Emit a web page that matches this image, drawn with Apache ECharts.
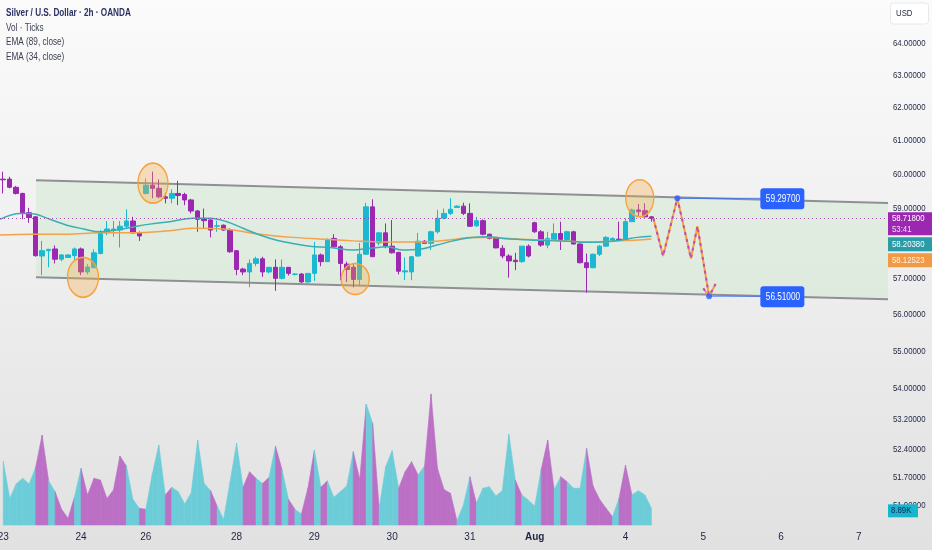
<!DOCTYPE html>
<html><head><meta charset="utf-8">
<script src="https://cdn.jsdelivr.net/npm/echarts@6/dist/echarts.min.js"></script>
<style>
html,body{margin:0;padding:0;width:932px;height:550px;overflow:hidden;}
#c{width:932px;height:550px;background:linear-gradient(#fbfbfb,#e1e1e1);}
</style>
</head><body><div id="c"></div>
<script>
const FONT = "'Liberation Sans','Noto Sans',sans-serif";
const SX = 0.82; // horizontal squeeze of the reference's condensed lettering
const slotCount = 137;
const tickIdx = [0,12,22,36,48,60,72,82,96,108,120,132];
const tickText = ['23','24','26','28','29','30','31','Aug','4','5','6','7'];
const priceTicks = [64,63,62,61,60,59,58,57,56,55,54,53.2,52.4,51.7,51.0];

const open = [59.86,59.86,59.62,59.44,58.88,58.76,57.64,57.79,57.84,57.55, 57.60,57.65,57.84,57.19,57.31,57.71,58.30,58.38,58.38,58.49, 58.64,58.30,59.44,59.68,59.59,59.34,59.30,59.44,59.41,59.25, 58.93,58.70,58.67,58.49,58.52,58.38,57.79,57.27,57.19,57.43, 57.56,57.19,57.32,57.01,57.32,57.12,57.13,56.91,57.15,57.67, 57.48,58.14,57.90,57.41,57.32,56.98,57.69,59.05,58.01,58.30, 57.92,57.74,57.19,57.19,57.64,58.06,58.00,58.33,58.72,58.86, 59.03,59.07,58.86,58.50,58.65,58.26,58.17,57.86,57.64,57.52, 57.48,57.92,58.59,58.33,57.95,58.11,58.28,58.11,58.33,57.98, 57.45,57.31,57.69,57.92,58.09,58.12,58.11,58.62,58.96,58.94, 58.76];
const high = [60.08,59.93,59.66,59.46,59.02,58.78,58.07,57.84,57.94,57.69, 57.69,57.88,57.88,57.41,57.83,58.38,58.64,58.64,58.64,58.98, 58.76,58.34,59.88,60.08,59.85,59.46,59.56,59.81,59.46,59.28, 58.96,59.00,58.69,58.65,58.54,58.43,57.81,57.31,57.54,57.62, 57.62,57.33,57.54,57.54,57.33,57.16,57.16,57.16,58.04,57.71, 58.14,58.26,57.95,57.48,57.43,58.01,59.17,59.27,58.33,58.57, 58.67,57.76,57.60,57.64,58.30,58.09,58.36,58.96,59.00,59.30, 59.10,59.17,59.15,58.76,58.69,58.28,58.17,57.95,57.69,57.73, 57.92,57.97,58.62,58.38,58.33,58.57,58.62,58.36,58.36,58.00, 57.71,57.71,57.95,58.21,58.17,58.62,58.72,59.00,59.13,59.15, 58.78];
const low = [59.44,59.59,59.41,58.69,58.59,57.62,57.10,57.32,57.43,57.49, 57.59,57.52,57.10,57.12,57.29,57.69,58.23,58.19,57.88,58.43, 58.28,58.07,59.41,59.30,59.30,59.15,59.15,59.10,59.10,58.86, 58.33,58.43,58.17,58.33,58.36,57.73,57.10,57.10,56.76,57.35, 57.05,57.15,56.66,56.98,57.09,57.09,56.88,56.88,56.94,57.35, 57.47,57.89,56.96,56.91,56.76,56.79,57.67,57.61,57.95,57.86, 57.71,57.12,56.96,56.96,57.62,58.00,57.81,58.28,58.69,58.81, 59.03,58.81,58.47,58.47,58.23,58.11,57.86,57.57,57.03,57.24, 57.45,57.60,58.30,57.90,57.86,58.09,57.81,58.09,57.97,57.43, 56.61,57.29,57.64,57.90,58.09,58.09,58.09,58.62,58.76,58.74, 58.62];
const close = [59.84,59.62,59.44,58.86,58.74,57.65,57.79,57.83,57.55,57.67, 57.67,57.84,57.19,57.33,57.73,58.30,58.41,58.41,58.49,58.64, 58.30,58.21,59.68,59.59,59.34,59.30,59.44,59.38,59.25,58.93, 58.69,58.65,58.38,58.50,58.38,57.76,57.26,57.19,57.43,57.56, 57.19,57.32,57.01,57.32,57.15,57.13,56.91,57.15,57.67,57.48, 58.11,57.90,57.43,57.26,56.98,57.69,59.05,57.62,58.30,57.92, 57.73,57.21,57.22,57.62,58.06,58.00,58.33,58.72,58.86,58.98, 59.07,58.86,58.49,58.65,58.26,58.14,57.87,57.64,57.50,57.48, 57.92,57.64,58.33,57.95,58.14,58.28,58.11,58.33,57.98,57.45, 57.31,57.69,57.92,58.17,58.14,58.10,58.62,58.96,58.91,58.76, 58.718];

// volume in thousands of ticks
const volume = [34.1,14.2,21.9,24.9,21.9,30.8,48.0,23.6,17.8,8.4, 3.6,15.1,30.2,16.0,24.9,24.0,14.2,18.7,36.8,31.5, 13.7,8.9,8.4,27.2,42.7,16.0,20.1,17.8,11.2,17.2, 45.3,22.2,18.3,10.1,3.0,23.1,43.6,20.1,28.4,24.9, 22.2,25.4,42.1,29.7,13.7,8.4,5.9,19.6,40.0,20.1, 23.6,14.8,17.8,20.8,39.1,24.4,64.5,54.2,8.9,31.1, 39.6,19.6,28.4,33.8,26.7,31.5,69.9,30.2,19.0,16.9, 2.3,10.7,25.8,11.6,19.6,20.4,15.5,18.3,48.5,24.0, 16.0,13.3,10.1,29.7,45.3,18.7,25.8,23.1,19.6,19.6, 40.9,20.8,13.7,8.9,4.4,14.2,32.0,16.0,18.3,16.0,8.89];
// colour of each volume segment (1 = up / teal, 0 = down / purple)
const volDir = [1,1,1,1,1, 0,0,1,0,0, 0,1,0,0,0, 0,0,0,0,1, 1,0,1,1,1, 0,1,1,1,1, 1,1,0,1,1, 1,1,0,0,1, 0,1,0,1,0, 1,0,0,1,0, 1,1,1,1,0, 0,1,0,1,1, 1,0,0,0,1, 0,0,0,0,0, 1,1,0,1,1, 1,1,1,1,0, 1,1,1,0,0, 1,0,1,1,1, 0,0,0,0,1, 0,0,1,1,1];

const emaFastIdx = [-0.5,2.6,4.1,7.2,9.8,12.4,14.9,17.5,20.1,22.6,25.7,29.3,31.9,34.5,37,39.6,42.2,44.8,47.3,50.4,54,56.6,59.2,61.7,64.3,66.9,69.4,72,74.6,77.1,79.7,82.3,84.8,87.4,90,92.5,95.2,97.8,100];
const emaFast = [58.69,58.86,58.86,58.69,58.52,58.41,58.33,58.38,58.47,58.55,58.62,58.72,58.72,58.62,58.43,58.24,58.09,57.99,57.92,57.88,57.81,57.86,57.90,57.81,57.83,57.95,58.07,58.16,58.19,58.14,58.11,58.09,58.07,58.06,58.03,58.04,58.09,58.17,58.2038];
const emaSlowIdx = [-0.5,4.6,9.8,14.9,20.0,25.7,29.3,34.5,39.6,44.7,50.4,54,59.2,64.3,69.4,72,74.6,79.7,84.8,90,95.2,100];
const emaSlow = [58.24,58.26,58.26,58.30,58.30,58.36,58.43,58.40,58.26,58.17,58.11,58.07,58.04,58.04,58.11,58.17,58.17,58.12,58.09,58.04,58.07,58.12523];

const channelTop = [[5.05,59.83],[136.5,59.16]];
const channelBot = [[5.05,57.04],[136.5,56.43]];
const circles = [[12.3,57.04],[23.1,59.74],[54.3,56.99],[98.2,59.30]];
const zigzag = [[100.3,58.72],[101.8,57.64],[104.0,59.297],[106.1,57.57],[107.1,58.49],[108.9,56.51]];
const arrowHead = [[108.0,56.73],[108.9,56.51],[109.9,56.85]];
const targets = [59.297, 56.51];
const targetIdx = [104.0, 108.9];
const noteIdx = 120.2;
const noteLineEnd = 116.9;

const UP = '#1ab9d1', DN = '#9c27b0';
const VOL_UP = '#6ccdd8', VOL_DN = '#bb70c6';
const TXT = '#1f2440';
const circleSize = [[31,40],[30,40],[28,31],[28,37]];

const cats = Array.from({length: slotCount}, (_, i) => {
  const k = tickIdx.indexOf(i);
  return k >= 0 ? tickText[k] : 's' + i;
});
const lastPrice = close[close.length - 1];
const lastVol = volume[volume.length - 1];

function textEl(x, y, s, fill, size, weight, z) {
  return {type: 'text', x: x, y: y, z: z || 100, scaleX: SX,
    style: {text: s, fill: fill, fontSize: size, fontWeight: weight || 'normal', fontFamily: FONT,
            align: 'left', verticalAlign: 'middle', textAlign: 'left', textVerticalAlign: 'middle'}};
}

const chart = echarts.init(document.getElementById('c'), null, {renderer: 'canvas'});
const option = {
  animation: false,
  backgroundColor: 'transparent',
  grid: [
    {left: 0, right: 44, top: 0, bottom: 25, containLabel: false, outerBoundsMode: 'none'},
    {left: 0, right: 44, top: 300, bottom: 25, containLabel: false, outerBoundsMode: 'none'}
  ],
  xAxis: [
    {type: 'category', gridIndex: 0, data: cats, boundaryGap: true,
     axisLine: {show: false}, axisTick: {show: false}, splitLine: {show: false},
     axisLabel: {
       show: true, margin: 7, fontSize: 10, color: TXT, fontFamily: FONT,
       interval: (idx) => tickIdx.indexOf(idx) >= 0,
       formatter: (v) => v === 'Aug' ? '{b|Aug}' : (v.charAt(0) === 's' ? '' : v),
       rich: {b: {fontWeight: 'bold', fontSize: 10, color: TXT, fontFamily: FONT}}
     }},
    {type: 'value', gridIndex: 0, min: -0.5, max: slotCount - 0.5, show: false},
    {type: 'value', gridIndex: 1, min: -0.5, max: slotCount - 0.5, show: false}
  ],
  yAxis: [
    {type: 'log', gridIndex: 0, min: 50.5, max: 65.37, logBase: 10,
     axisLine: {show: false}, axisTick: {show: false}, axisLabel: {show: false}, splitLine: {show: false}},
    {type: 'value', gridIndex: 1, min: 0, max: 120, show: false, splitLine: {show: false}}
  ],
  series: [
    {
      name: 'channel', type: 'custom', xAxisIndex: 1, yAxisIndex: 0, z: 1, silent: true,
      data: [[channelTop[0][0], channelTop[0][1]]],
      encode: {x: 0, y: 1},
      renderItem: (params, api) => {
        const p = [channelTop[0], channelTop[1], channelBot[1], channelBot[0]].map(q => api.coord(q));
        return {type: 'group', children: [
          {type: 'polygon', shape: {points: p}, style: {fill: 'rgba(200,230,201,0.42)'}},
          {type: 'line', shape: {x1: p[0][0], y1: p[0][1], x2: p[1][0], y2: p[1][1]}, style: {stroke: '#8e9092', lineWidth: 2}},
          {type: 'line', shape: {x1: p[3][0], y1: p[3][1], x2: p[2][0], y2: p[2][1]}, style: {stroke: '#8e9092', lineWidth: 2}}
        ]};
      }
    },
    {
      name: 'Vol', type: 'custom', xAxisIndex: 2, yAxisIndex: 1, z: 1, silent: true,
      data: volDir.map((d, i) => [i, volume[i], volume[i + 1], d]),
      encode: {x: 0, y: [1, 2]},
      renderItem: (params, api) => {
        const i = api.value(0);
        const a = api.coord([i, api.value(1)]);
        const b = api.coord([i + 1, api.value(2)]);
        const b0 = api.coord([i + 1, 0]);
        const a0 = api.coord([i, 0]);
        const col = api.value(3) ? VOL_UP : VOL_DN;
        return {type: 'polygon', shape: {points: [a, b, b0, a0]}, style: {fill: col, stroke: col, lineWidth: 0.6}};
      }
    },
    {
      name: 'XAGUSD', type: 'candlestick', xAxisIndex: 0, yAxisIndex: 0, z: 3,
      barWidth: 5,
      data: open.map((o, i) => [o, close[i], low[i], high[i]]),
      itemStyle: {color: UP, color0: DN, borderColor: UP, borderColor0: DN, borderWidth: 1},
      markLine: {
        silent: true, symbol: ['none', 'none'], label: {show: false},
        lineStyle: {color: '#9c27b0', type: [1, 3], width: 1, opacity: 0.8},
        data: [{yAxis: lastPrice}]
      }
    },
    {
      name: 'EMA (89, close)', type: 'line', xAxisIndex: 1, yAxisIndex: 0, z: 4,
      data: emaSlowIdx.map((x, i) => [x, emaSlow[i]]), smooth: 0.4, symbol: 'none',
      lineStyle: {color: '#f5a04a', width: 1.5}
    },
    {
      name: 'EMA (34, close)', type: 'line', xAxisIndex: 1, yAxisIndex: 0, z: 4,
      data: emaFastIdx.map((x, i) => [x, emaFast[i]]), smooth: 0.4, symbol: 'none',
      lineStyle: {color: '#3aaeb5', width: 1.5}
    },
    {
      name: 'circles', type: 'scatter', xAxisIndex: 1, yAxisIndex: 0, z: 5, silent: true,
      data: circles,
      symbol: 'circle',
      symbolSize: (v, p) => circleSize[p.dataIndex],
      itemStyle: {color: 'rgba(245,170,70,0.33)', borderColor: '#f5a23c', borderWidth: 1.5, opacity: 1}
    },
    {
      name: 'notes', type: 'line', xAxisIndex: 1, yAxisIndex: 0, z: 5, symbol: 'none',
      data: [[targetIdx[0], targets[0]], [noteLineEnd, targets[0]]],
      lineStyle: {color: '#2962ff', width: 1, opacity: 0.7}
    },
    {
      name: 'notes2', type: 'line', xAxisIndex: 1, yAxisIndex: 0, z: 5, symbol: 'none',
      data: [[targetIdx[1], targets[1]], [noteLineEnd, targets[1]]],
      lineStyle: {color: '#2962ff', width: 1, opacity: 0.7}
    },
    {
      name: 'path', type: 'line', xAxisIndex: 1, yAxisIndex: 0, z: 6, symbol: 'none',
      data: zigzag, lineStyle: {color: '#f5a03c', width: 2}
    },
    {
      name: 'path2', type: 'line', xAxisIndex: 1, yAxisIndex: 0, z: 6, symbol: 'none',
      data: zigzag, lineStyle: {color: '#c04bc0', width: 2, type: [3, 4]}
    },
    {
      name: 'arrow', type: 'line', xAxisIndex: 1, yAxisIndex: 0, z: 6, symbol: 'none',
      data: arrowHead, lineStyle: {color: '#f5a03c', width: 2}
    },
    {
      name: 'arrow2', type: 'line', xAxisIndex: 1, yAxisIndex: 0, z: 6, symbol: 'none',
      data: arrowHead, lineStyle: {color: '#c04bc0', width: 2, type: [3, 4]}
    },
    {
      name: 'pts', type: 'scatter', xAxisIndex: 1, yAxisIndex: 0, z: 7, symbolSize: 6,
      data: targetIdx.map((x, i) => [x, targets[i]]), itemStyle: {color: '#2962ff'}
    },
    {
      name: 'tags', type: 'custom', xAxisIndex: 1, yAxisIndex: 0, z: 8,
      data: targets.map(v => [noteIdx, v]),
      encode: {x: 0, y: 1},
      renderItem: (params, api) => {
        const c = api.coord([api.value(0), api.value(1)]);
        return {type: 'group', children: [
          {type: 'rect', shape: {x: c[0] - 22, y: c[1] - 10, width: 44, height: 21, r: 3}, style: {fill: '#2962ff'}},
          {type: 'text', x: c[0] - 16.5, y: c[1] + 0.5, scaleX: SX,
           style: {text: api.value(1).toFixed(5), fill: '#ffffff', fontSize: 10, fontFamily: FONT,
                   align: 'left', verticalAlign: 'middle', textAlign: 'left', textVerticalAlign: 'middle'}}
        ]};
      }
    }
  ]
};
chart.setOption(option);

// legend texts, price scale labels and right-side tags, positioned through the chart's own scales
const g = [];
g.push(textEl(6, 13.5, 'Silver / U.S. Dollar · 2h · OANDA', '#2a3163', 10, 'bold'));
g.push(textEl(6, 28, 'Vol · Ticks', '#3c4152', 10));
g.push(textEl(6, 42.5, 'EMA (89, close)', '#3c4152', 10));
g.push(textEl(6, 57, 'EMA (34, close)', '#3c4152', 10));
g.push({type: 'rect', z: 100, shape: {x: 890.5, y: 3, width: 38, height: 21, r: 3},
        style: {fill: '#ffffff', stroke: '#e6e8ee', lineWidth: 1}});
g.push(textEl(896, 13.5, 'USD', TXT, 9.5));
priceTicks.forEach(v => {
  const y = chart.convertToPixel({yAxisIndex: 0}, v);
  g.push(textEl(893, y, v.toFixed(5), TXT, 9.5));
});
const yLast = chart.convertToPixel({yAxisIndex: 0}, lastPrice);
const tagTop = yLast - 6;
g.push({type: 'rect', z: 110, shape: {x: 888, y: tagTop, width: 44, height: 23}, style: {fill: '#9c27b0'}});
g.push(textEl(892, tagTop + 6, lastPrice.toFixed(5), '#ffffff', 9.5, 'normal', 111));
g.push(textEl(892, tagTop + 17, '53:41', '#f1dcf5', 9.5, 'normal', 111));
const t2 = tagTop + 25;
g.push({type: 'rect', z: 110, shape: {x: 888, y: t2, width: 44, height: 14}, style: {fill: '#2a9ca7'}});
g.push(textEl(892, t2 + 7, emaFast[emaFast.length - 1].toFixed(5), '#ffffff', 9.5, 'normal', 111));
const t3 = t2 + 16;
g.push({type: 'rect', z: 110, shape: {x: 888, y: t3, width: 44, height: 14}, style: {fill: '#f09a47'}});
g.push(textEl(892, t3 + 7, emaSlow[emaSlow.length - 1].toFixed(5), '#fff4e6', 9.5, 'normal', 111));
const yVol = chart.convertToPixel({yAxisIndex: 1}, lastVol);
g.push({type: 'rect', z: 110, shape: {x: 888, y: yVol - 4, width: 30, height: 13}, style: {fill: '#17b6cf'}});
g.push(textEl(891, yVol + 2.5, lastVol.toFixed(2) + 'K', '#1a2350', 9.5, 'normal', 111));
chart.setOption({graphic: g});
</script>
</body></html>
